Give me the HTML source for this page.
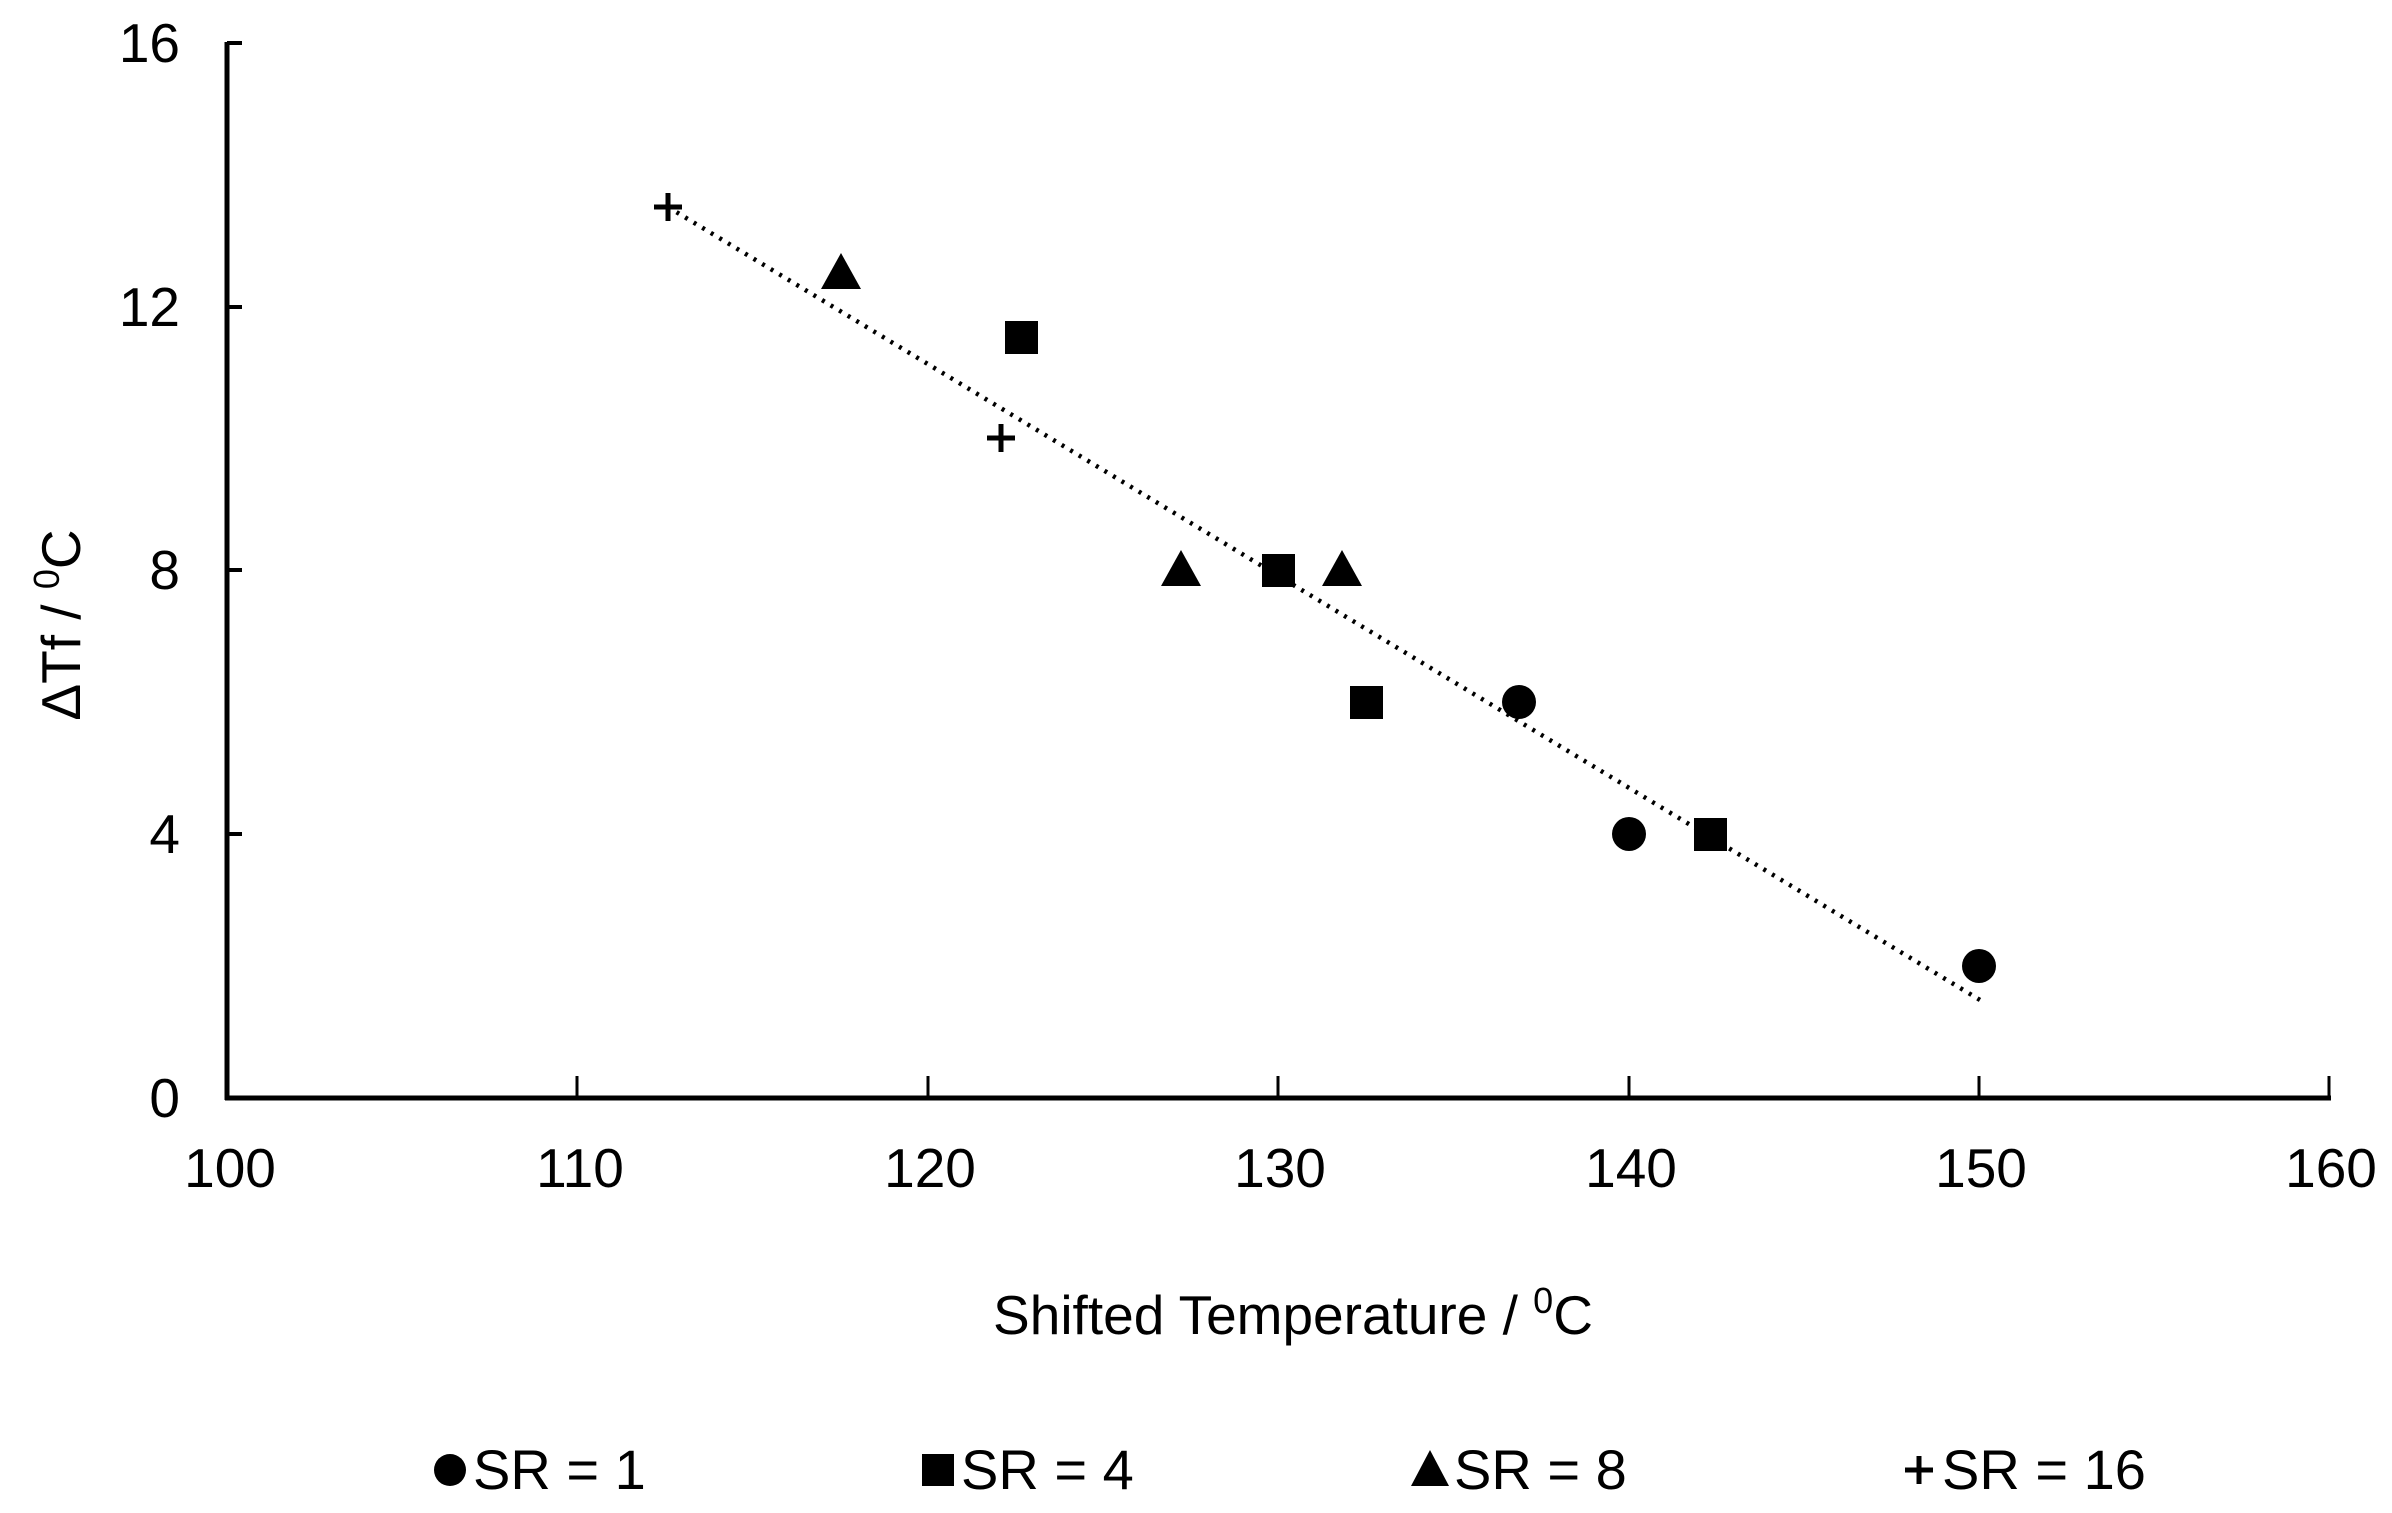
<!DOCTYPE html>
<html><head><meta charset="utf-8"><style>html,body{margin:0;padding:0;background:#fff}svg{display:block}</style></head>
<body>
<svg width="2392" height="1513" viewBox="0 0 2392 1513" xmlns="http://www.w3.org/2000/svg" font-family="Liberation Sans, Arial, sans-serif" fill="#000">
<line x1="227" y1="42" x2="227" y2="1100" stroke="#000" stroke-width="5"/>
<line x1="225" y1="1098" x2="2331" y2="1098" stroke="#000" stroke-width="5"/>
<g stroke="#000" stroke-width="4">
<line x1="227" y1="43" x2="242" y2="43"/>
<line x1="227" y1="307" x2="242" y2="307"/>
<line x1="227" y1="570" x2="242" y2="570"/>
<line x1="227" y1="834" x2="242" y2="834"/>
</g>
<g stroke="#000" stroke-width="3">
<line x1="577" y1="1098" x2="577" y2="1076"/>
<line x1="928" y1="1098" x2="928" y2="1076"/>
<line x1="1278" y1="1098" x2="1278" y2="1076"/>
<line x1="1629" y1="1098" x2="1629" y2="1076"/>
<line x1="1979" y1="1098" x2="1979" y2="1076"/>
<line x1="2329" y1="1098" x2="2329" y2="1076"/>
</g>
<g font-size="55" text-anchor="end">
<text x="180" y="62">16</text>
<text x="180" y="326">12</text>
<text x="180" y="589">8</text>
<text x="180" y="853">4</text>
<text x="180" y="1117">0</text>
</g>
<g font-size="55" text-anchor="middle">
<text x="230" y="1187">100</text>
<text x="580" y="1187">110</text>
<text x="930" y="1187">120</text>
<text x="1280" y="1187">130</text>
<text x="1631" y="1187">140</text>
<text x="1981" y="1187">150</text>
<text x="2331" y="1187">160</text>
</g>
<text x="1293" y="1334" font-size="55" text-anchor="middle">Shifted Temperature / <tspan font-size="36" dy="-21">0</tspan><tspan dy="21">C</tspan></text>
<text transform="translate(80,625) rotate(-90)" font-size="55" text-anchor="middle">ΔTf / <tspan font-size="36" dy="-21">0</tspan><tspan dy="21">C</tspan></text>
<line x1="668" y1="207" x2="1980" y2="1000" stroke="#000" stroke-width="4.5" stroke-dasharray="3,7"/>
<circle cx="1519" cy="702" r="17"/>
<circle cx="1629" cy="834" r="17"/>
<circle cx="1979" cy="966" r="17"/>
<rect x="1005" y="321" width="33" height="33"/>
<rect x="1262" y="554" width="33" height="33"/>
<rect x="1350" y="686" width="33" height="33"/>
<rect x="1694" y="818" width="33" height="33"/>
<polygon points="841,253 821,289 861,289"/>
<polygon points="1181,550 1161,586 1201,586"/>
<polygon points="1342,550 1322,586 1362,586"/>
<g stroke="#000" stroke-width="5">
<line x1="654" y1="207" x2="682" y2="207"/><line x1="668" y1="193" x2="668" y2="221"/>
<line x1="987" y1="438" x2="1015" y2="438"/><line x1="1001" y1="424" x2="1001" y2="452"/>
</g>
<g font-size="56">
<circle cx="450" cy="1470" r="16"/>
<text x="473" y="1489">SR = 1</text>
<rect x="922" y="1454" width="32" height="32"/>
<text x="961" y="1489">SR = 4</text>
<polygon points="1430,1450 1411,1486 1449,1486"/>
<text x="1454" y="1489">SR = 8</text>
<g stroke="#000" stroke-width="5"><line x1="1905" y1="1470" x2="1933" y2="1470"/><line x1="1919" y1="1456" x2="1919" y2="1484"/></g>
<text x="1942" y="1489">SR = 16</text>
</g>
</svg>
</body></html>
